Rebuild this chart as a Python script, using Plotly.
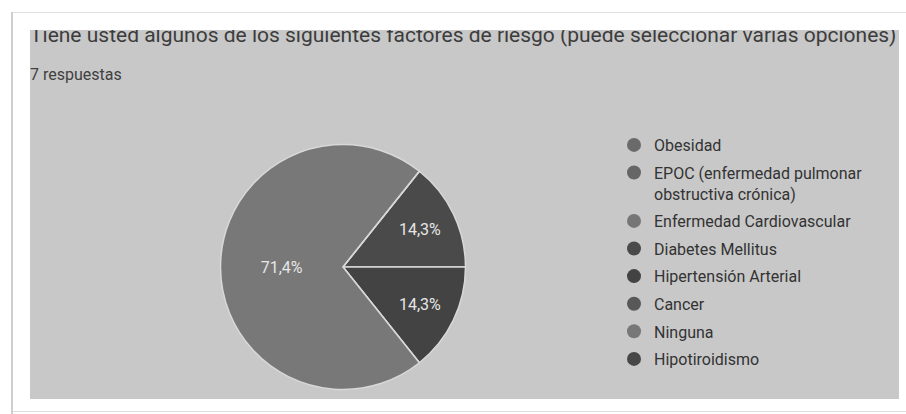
import plotly.graph_objects as go

W, H = 906, 414

title_text = "Tiene usted algunos de los siguientes factores de riesgo (puede seleccionar varias opciones)"
subtitle_text = "7 respuestas"

categories = [
    "Obesidad",
    "EPOC (enfermedad pulmonar<br>obstructiva crónica)",
    "Enfermedad Cardiovascular",
    "Diabetes Mellitus",
    "Hipertensión Arterial",
    "Cancer",
    "Ninguna",
    "Hipotiroidismo",
]
responses = [0, 0, 0, 1, 1, 0, 5, 0]
colors = ["#6a6a6a", "#666666", "#767676", "#4a4a4a", "#434343", "#585858", "#787878", "#474747"]

total = sum(responses)
# the two small slices sit symmetrically around 3 o'clock
first_two = responses[3] + responses[4]
rotation = 90 - 180 * first_two / total

# pie placement (pixels)
cx, cy, r = 343, 267, 122.5

fig = go.Figure()

fig.add_trace(go.Pie(
    labels=categories,
    values=responses,
    sort=False,
    direction="clockwise",
    rotation=rotation,
    marker=dict(colors=colors, line=dict(color="#d8d8d8", width=1.5)),
    textinfo="percent",
    textposition="inside",
    insidetextorientation="horizontal",
    textfont=dict(family="Roboto", size=16, color="#e6e6e6"),
    domain=dict(x=[(cx - r) / W, (cx + r) / W], y=[(H - cy - r) / H, (H - cy + r) / H]),
    showlegend=False,
    hoverinfo="label+percent",
))

# legend entries, one group per category so the rows can be spaced
for lab, col in zip(categories, colors):
    fig.add_trace(go.Scatter(
        x=[None], y=[None], mode="markers", name=lab, legendgroup=lab,
        marker=dict(symbol="circle", size=14, color=col),
        hoverinfo="skip",
    ))

# title, clipped at the top by the card edge
fig.add_trace(go.Scatter(
    x=[30], y=[36.5], mode="text", text=[title_text], textposition="middle right",
    textfont=dict(family="Roboto", size=21, color="#3c3c3c"),
    showlegend=False, hoverinfo="skip",
))

fig.update_layout(
    width=W, height=H, autosize=False,
    margin=dict(l=0, r=0, t=0, b=0),
    paper_bgcolor="white", plot_bgcolor="rgba(0,0,0,0)",
    separators=",.",
    xaxis=dict(range=[0, W], visible=False, fixedrange=True),
    yaxis=dict(range=[H, 0], visible=False, fixedrange=True),
    legend=dict(
        x=614 / W, xanchor="left", y=1 - 128 / H, yanchor="top",
        font=dict(family="Roboto", size=16, color="#333333"),
        tracegroupgap=3.8, valign="top", itemsizing="trace",
        bgcolor="rgba(0,0,0,0)",
    ),
    shapes=[
        dict(type="rect", xref="x", yref="y", x0=30, x1=899, y0=30, y1=399,
             fillcolor="#c8c8c8", line=dict(width=0), layer="below"),
        dict(type="rect", xref="x", yref="y", x0=0, x1=W, y0=0, y1=30,
             fillcolor="white", line=dict(width=0), layer="above"),
        dict(type="line", xref="x", yref="y", x0=12, x1=W, y0=12.5, y1=12.5,
             line=dict(color="#e2e2e2", width=1), layer="above"),
        dict(type="line", xref="x", yref="y", x0=12, x1=W, y0=411.5, y1=411.5,
             line=dict(color="#dedede", width=1), layer="above"),
        dict(type="line", xref="x", yref="y", x0=12, x1=12, y0=12, y1=H,
             line=dict(color="#cfcfcf", width=2), layer="above"),
    ],
    annotations=[
        dict(text=subtitle_text, xref="x", yref="y", x=28, y=74, xanchor="left", yanchor="middle",
             showarrow=False, font=dict(family="Roboto", size=16, color="#404040")),
    ],
)

fig.write_html("out.html")
